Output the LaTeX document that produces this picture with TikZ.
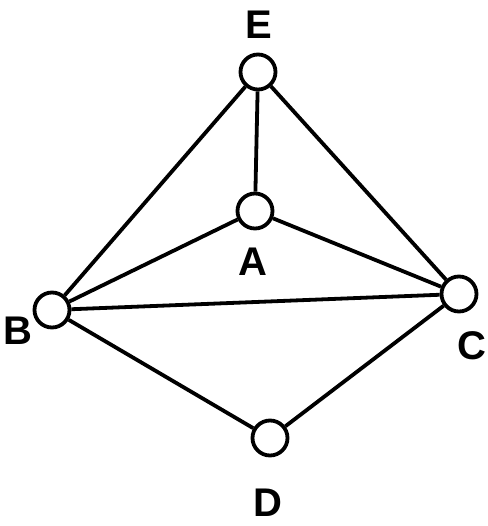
\documentclass[tikz,border=0pt]{standalone}
\usepackage{fontspec}
\setmainfont{Liberation Sans}
\begin{document}
\begin{tikzpicture}[x=1pt,y=-1pt,
  vtx/.style={circle,draw,line width=3.8pt,minimum size=35pt,inner sep=0pt,fill=white},
  lbl/.style={font=\fontsize{40}{40}\selectfont\bfseries,inner sep=0pt},
  edge/.style={line width=3.8pt}]
\useasboundingbox (0,0) rectangle (487,526);
\node[vtx] (E) at (258,72) {};
\node[vtx] (A) at (255,211) {};
\node[vtx] (B) at (52,310) {};
\node[vtx] (C) at (459,294) {};
\node[vtx] (D) at (270,438) {};
\node[lbl] (lE) at (259,25) {E};
\node[lbl] (lA) at (253,262) {A};
\node[lbl] (lB) at (18,331) {B};
\node[lbl] (lC) at (472,346) {C};
\node[lbl] (lD) at (268,503) {D};
\draw[edge] (E) -- (A);
\draw[edge] (E) -- (B);
\draw[edge] (E) -- (C);
\draw[edge] (A) -- (B);
\draw[edge] (A) -- (C);
\draw[edge] (B) -- (C);
\draw[edge] (B) -- (D);
\draw[edge] (D) -- (C);
\end{tikzpicture}
\end{document}
